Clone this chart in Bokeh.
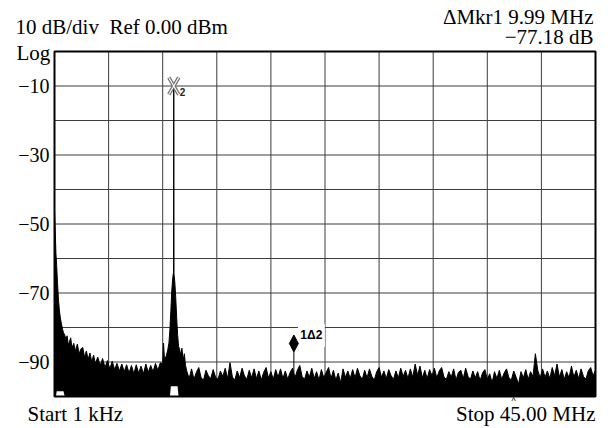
from bokeh.plotting import figure
from bokeh.models import Range1d
from bokeh.core.properties import value
from bokeh.embed import file_html
from bokeh.resources import INLINE

# ---------------- data ----------------
ytick_values = [-10, -30, -50, -70, -90]
ytick_labels = ["−10", "−30", "−50", "−70", "−90"]
xgrid_values = [4.5, 9.0, 13.5, 18.0, 22.5, 27.0, 31.5, 36.0, 40.5]
ygrid_values = [-10, -20, -30, -40, -50, -60, -70, -80, -90]

# trace, 0 - 11 MHz (start-up skirt and 10 MHz carrier)
left_freq = [0.001, 0.06, 0.12, 0.18, 0.25, 0.33, 0.42, 0.5, 0.58, 0.67,
             0.75, 0.85, 0.95, 1.05, 1.15, 1.25, 1.35, 1.45, 1.6, 1.75,
             1.9, 2.05, 2.2, 2.35, 2.5, 2.65, 2.8, 2.95, 3.1, 3.25,
             3.4, 3.6, 3.8, 4.0, 4.2, 4.4, 4.6, 4.8, 5.0, 5.2,
             5.4, 5.6, 5.8, 6.0, 6.2, 6.4, 6.6, 6.8, 7.0, 7.2,
             7.4, 7.6, 7.8, 8.0, 8.2, 8.4, 8.6, 8.8, 9.0, 9.07,
             9.15, 9.3, 9.42, 9.52, 9.6, 9.68, 9.76, 9.84, 9.9, 9.92,
             9.94, 10.0, 10.08, 10.16, 10.24, 10.32, 10.4, 10.5, 10.6, 10.7,
             10.8, 10.9]
left_level = [-45.8, -52.0, -58.6, -62.0, -67.0, -72.0, -75.5, -77.5, -79.0, -80.5,
              -81.5, -82.2, -83.5, -82.4, -85.2, -84.0, -83.0, -86.0, -84.6, -86.8,
              -84.8, -87.6, -86.2, -85.8, -88.6, -86.8, -89.2, -87.4, -90.0, -88.0,
              -90.4, -88.6, -91.0, -89.0, -91.6, -89.6, -92.0, -89.8, -92.2, -90.4,
              -92.6, -90.6, -92.8, -90.8, -93.2, -91.0, -93.4, -90.8, -93.2, -91.2,
              -93.4, -90.6, -93.0, -91.0, -92.8, -90.4, -92.4, -90.2, -90.6, -84.5,
              -89.4, -88.2, -86.5, -84.5, -80.5, -75.0, -69.0, -65.5, -64.0, -10.0,
              -64.5, -66.5, -71.0, -77.0, -82.0, -85.5, -86.2, -88.0, -86.0, -89.5,
              -87.6, -91.0]
left_lower = ([-100.0] * 3 + [-98.5] * 8 + [-100.0] * 54 + [-97.0] * 10
              + [-100.0] * 7)

# trace, 11 - 45 MHz noise floor (0.2 MHz bins)
floor_start = 11.0
floor_step = 0.2
floor_level = [
    -92.6, -94.8, -92.0, -95.0, -93.0, -91.6, -94.6, -95.2, -92.4, -94.0,
    -94.8, -92.2, -94.4, -95.0, -92.6, -94.2, -91.8, -94.8, -90.2, -94.4,
    -95.2, -92.6, -94.6, -91.8, -94.0, -95.0, -92.4, -94.6, -92.0, -94.8,
    -92.6, -95.2, -93.0, -91.6, -94.6, -92.8, -95.0, -92.2, -94.4, -92.0,
    -94.8, -92.6, -95.0, -93.0, -91.8, -94.6, -92.4, -91.0, -94.2, -95.0,
    -92.6, -94.4, -91.8, -94.8, -92.8, -95.2, -92.2, -94.6, -93.0, -91.6,
    -94.8, -92.4, -95.2, -93.2, -96.0, -92.0, -94.4, -92.6, -94.8, -92.2,
    -94.6, -91.8, -94.0, -95.0, -92.4, -94.6, -92.0, -94.2, -95.2, -92.8,
    -91.6, -94.4, -92.6, -94.8, -92.2, -94.0, -95.0, -92.6, -94.6, -91.8,
    -94.2, -92.4, -94.8, -92.0, -94.4, -90.6, -93.8, -91.2, -94.6, -92.4,
    -94.8, -92.2, -94.0, -91.8, -94.6, -92.6, -91.6, -94.4, -95.0, -92.8,
    -94.4, -92.0, -95.2, -93.0, -92.4, -94.8, -91.8, -94.2, -95.0, -92.6,
    -94.6, -92.8, -95.4, -93.2, -92.2, -95.0, -93.4, -96.0, -92.8, -94.8,
    -92.4, -95.0, -93.2, -92.0, -94.6, -95.2, -92.6, -94.4, -96.4, -92.8,
    -94.6, -92.2, -95.0, -92.8, -94.2, -87.6, -92.4, -94.6, -92.0, -94.4,
    -92.6, -94.8, -91.6, -94.0, -90.6, -94.4, -92.2, -95.0, -92.8, -94.6,
    -91.2, -94.4, -92.4, -94.8, -92.0, -94.2, -95.0, -92.6, -91.6, -94.0,
    -92.4]

# markers: [marker 2 (carrier), marker 1 (delta)]
mkr_freq = [9.92, 19.91]
mkr_level = [-10.0, -87.1]

header_left = "10 dB/div\u00a0\u00a0Ref 0.00 dBm"
header_log = "Log"
header_right = ["ΔMkr1 9.99 MHz", "−77.18 dB"]
start_text = "Start 1 kHz"
stop_text = "Stop 45.00 MHz"
mkr2_text = "2"
mkr1_text = "1Δ2"

# ---------------- layout ----------------
W, H = 608, 428
FL, FR, FT, FB = 54, 595, 51, 396
X0, X1, Y0, Y1 = 0.0, 45.0, -100.0, 0.0


def sx(px):
    return X0 + (px - FL) / (FR - FL) * (X1 - X0)


def sy(py):
    return Y1 - (py - FT) / (FB - FT) * (Y1 - Y0)


def dxp(n):
    return n / (FR - FL) * (X1 - X0)


def dyp(n):
    return n / (FB - FT) * (Y1 - Y0)


SERIF = "Liberation Serif"
SANS = "Liberation Sans"

p = figure(width=W, height=H,
           x_range=Range1d(sx(0), sx(W)), y_range=Range1d(sy(H), sy(0)),
           output_backend="svg", toolbar_location=None,
           min_border_left=0, min_border_right=0,
           min_border_top=0, min_border_bottom=0)
p.background_fill_color = "white"
p.border_fill_color = "white"
p.outline_line_color = None
p.axis.visible = False
p.grid.visible = False

# ---------------- grid ----------------
GRID = "#3c3c3c"
p.segment(x0=xgrid_values, y0=[Y0] * len(xgrid_values),
          x1=xgrid_values, y1=[Y1] * len(xgrid_values),
          line_color=GRID, line_width=1)
p.segment(x0=[X0] * len(ygrid_values), y0=ygrid_values,
          x1=[X1] * len(ygrid_values), y1=ygrid_values,
          line_color=GRID, line_width=1)

# ---------------- trace ----------------
floor_freq = [round(floor_start + i * floor_step, 3) for i in range(len(floor_level))]
freq = left_freq + floor_freq
level = left_level + floor_level
lower = left_lower + [Y0] * len(floor_level)

p.varea(x=freq, y1=lower, y2=level, fill_color="black")
p.line(freq, level, line_color="black", line_width=1)

# ---------------- markers ----------------
m2x, m2y = mkr_freq[0], mkr_level[0]
hx, hy = dxp(5), dyp(8.5)
xs0 = [m2x - hx, m2x - hx]
ys0 = [m2y - hy, m2y + hy]
xs1 = [m2x + hx, m2x + hx]
ys1 = [m2y + hy, m2y - hy]
p.segment(x0=xs0, y0=ys0, x1=xs1, y1=ys1, line_color="#6e6e6e", line_width=3.5)
p.segment(x0=xs0, y0=ys0, x1=xs1, y1=ys1, line_color="white", line_width=1.2)
p.text(x=[m2x + dxp(6)], y=[m2y - dyp(5.5)], text=[mkr2_text],
       text_font=value(SANS), text_font_style="bold", text_font_size="10px",
       text_color="#222222", text_baseline="middle")

m1x, m1y = mkr_freq[1], mkr_level[1]
p.segment(x0=[m1x], y0=[m1y], x1=[m1x], y1=[-94.0], line_color="black", line_width=1)
p.quad(left=[m1x + dxp(4)], right=[m1x + dxp(31)],
       bottom=[m1y + dyp(5)], top=[m1y + dyp(28)],
       fill_color="white", line_color=None)
dw, dh = dxp(4.5), dyp(17)
p.patch([m1x, m1x + dw, m1x, m1x - dw], [m1y, m1y + dh / 2, m1y + dh, m1y + dh / 2],
        fill_color="black", line_color="black")
p.text(x=[m1x + dxp(6.5)], y=[m1y + dyp(16.5)], text=[mkr1_text],
       text_font=value(SANS), text_font_style="bold", text_font_size="12px",
       text_color="black", text_baseline="middle")

# ---------------- frame ----------------
p.quad(left=[X0], right=[X1], bottom=[Y0], top=[Y1],
       fill_color=None, line_color="black", line_width=2)

# ---------------- texts ----------------
p.text(x=[sx(49)] * len(ytick_values), y=ytick_values, text=ytick_labels,
       text_align="right", text_baseline="middle",
       text_font=value(SERIF), text_font_size="20px", text_color="black")


def lab(px, py_mid, txt, align="left", size="21px", font=SERIF):
    p.text(x=[sx(px)], y=[sy(py_mid)], text=[txt], text_align=align,
           text_baseline="middle", text_font=value(font), text_font_size=size,
           text_color="black")


lab(15, 26.5, header_left)
lab(16, 52.5, header_log)
lab(593, 16, header_right[0], align="right")
lab(593, 36.5, header_right[1], align="right")
lab(27, 413, start_text)
lab(595, 413, stop_text, align="right")
lab(513, 400, "^", align="center", size="9px", font=SANS)

open("out.html", "w").write(file_html(p, INLINE))
